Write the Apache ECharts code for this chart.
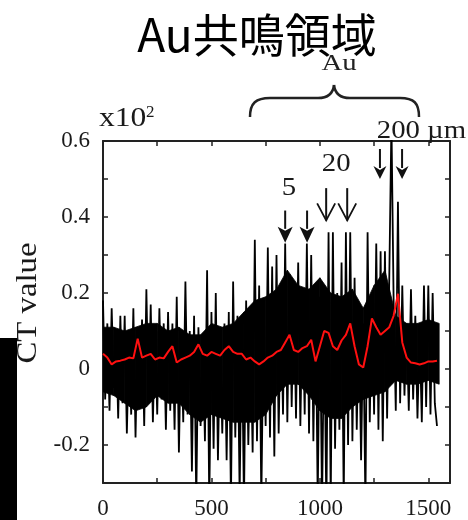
<!DOCTYPE html>
<html>
<head>
<meta charset="utf-8">
<script src="https://cdn.jsdelivr.net/npm/echarts@6/dist/echarts.min.js"></script>
<style>
  html, body { margin: 0; padding: 0; background: #fff; }
  #chart { width: 468px; height: 520px; }
</style>
</head>
<body>
<div id="chart"></div>
<script>
// raw CT profile, one sample every 10 um (0 .. 1540)
const ctStep = 10;
const ctValues = [
  0.18, -0.08, 0.12, -0.11, 0.16, -0.05, 0.10, -0.13, 0.14, -0.09,
  0.14, -0.17, 0.08, -0.12, 0.16, -0.18, 0.11, -0.10, 0.13, -0.15,
  0.21, -0.09, 0.17, -0.14, 0.10, -0.12, 0.16, -0.08, 0.12, -0.16,
  0.15, -0.11, 0.12, -0.16, 0.19, -0.22, 0.09, -0.14, 0.23, -0.12,
  0.10, -0.27, 0.14, -0.35, 0.11, -0.15, 0.08, -0.19, 0.26, -0.36,
  0.15, -0.21, 0.20, -0.24, 0.09, -0.17, 0.12, -0.24, 0.15, -0.35,
  0.23, -0.18, 0.14, -0.33, 0.12, -0.36, 0.18, -0.20, 0.10, -0.22,
  0.34, -0.19, 0.22, -0.35, 0.12, -0.15, 0.32, -0.18, 0.27, -0.23,
  0.30, -0.17, 0.19, -0.12, 0.33, -0.14, 0.25, -0.10, 0.21, -0.13,
  0.28, -0.15, 0.18, -0.12, 0.33, -0.17, 0.30, -0.19, 0.22, -0.35,
  0.19, -0.36, 0.14, -0.38, 0.36, -0.35, 0.36, -0.21, 0.20, -0.16,
  0.28, -0.35, 0.36, -0.20, 0.36, -0.19, 0.24, -0.16, 0.14, -0.24,
  0.12, -0.36, 0.36, -0.14, 0.20, -0.12, 0.33, -0.16, 0.31, -0.19,
  0.31, -0.13, 0.24, 0.65, 0.18, -0.11, 0.44, -0.09, 0.22, -0.07,
  0.12, -0.11, 0.21, -0.08, 0.14, -0.13, 0.10, -0.14, 0.22, -0.10,
  0.22, -0.12, 0.20, -0.09, -0.15
];

// dense noise core of the raw profile, every 50 um (upper / lower edge)
const coreStep = 50;
const coreUpper = [
  0.11, 0.11, 0.10, 0.11, 0.12, 0.12, 0.10, 0.11, 0.09, 0.09,
  0.12, 0.11, 0.12, 0.15, 0.18, 0.19, 0.21, 0.26, 0.22, 0.21,
  0.24, 0.20, 0.19, 0.21, 0.16, 0.22, 0.26, 0.14, 0.12, 0.12,
  0.13, 0.12
];
const coreLower = [
  -0.06, -0.07, -0.09, -0.11, -0.10, -0.07, -0.09, -0.09, -0.12, -0.14,
  -0.12, -0.13, -0.14, -0.14, -0.14, -0.12, -0.07, -0.04, -0.04, -0.07,
  -0.11, -0.13, -0.13, -0.10, -0.08, -0.07, -0.06, -0.03, -0.04, -0.04,
  -0.03, -0.04
];

// averaged profile (red), one sample every 20 um
const avgStep = 20;
const avgValues = [
  0.040, 0.030, 0.012, 0.020, 0.022, 0.025, 0.030, 0.028, 0.080, 0.030,
  0.035, 0.040, 0.025, 0.030, 0.028, 0.045, 0.060, 0.017, 0.025, 0.030,
  0.035, 0.045, 0.065, 0.040, 0.035, 0.045, 0.040, 0.035, 0.050, 0.060,
  0.045, 0.040, 0.040, 0.025, 0.030, 0.020, 0.012, 0.020, 0.030, 0.035,
  0.045, 0.050, 0.070, 0.090, 0.050, 0.045, 0.055, 0.060, 0.077, 0.020,
  0.060, 0.100, 0.095, 0.060, 0.050, 0.075, 0.090, 0.120, 0.060, 0.012,
  0.004, 0.060, 0.133, 0.110, 0.090, 0.100, 0.110, 0.140, 0.198, 0.070,
  0.030, 0.017, 0.015, 0.012, 0.015, 0.020, 0.020, 0.022
];

const xLabelValues = [0, 500, 1000, 1500];
const yLabelValues = [-0.2, 0, 0.2, 0.4, 0.6];

// arrows: x, top, tip, kind (0 big solid, 1 open, 2 small solid)
const arrowMarks = [
  [840, 0.417, 0.332, 0],
  [941, 0.417, 0.332, 0],
  [1029, 0.476, 0.391, 1],
  [1126, 0.476, 0.391, 1],
  [1277, 0.579, 0.500, 2],
  [1379, 0.579, 0.500, 2]
];
const arrowLabels = [
  ['5', 857, 0.476],
  ['20', 1075, 0.538],
  ['200 µm', 1468, 0.624]
];

const ctData = ctValues.map((v, i) => [i * ctStep, v]);
const avgData = avgValues.map((v, i) => [i * avgStep, v]);
const coreData = coreUpper.map((v, i) => [i * coreStep, v, coreLower[i]]);

const ink = '#1a1a1a';
const serif = '"Liberation Serif", "DejaVu Serif", serif';

const chart = echarts.init(document.getElementById('chart'));

const axisCommon = {
  axisLine: { show: true, onZero: false, lineStyle: { color: '#222', width: 2 } },
  axisTick: { show: true, inside: true, length: 5, lineStyle: { color: '#222', width: 1.5 } },
  splitLine: { show: false }
};

// curly brace over the Au region
const braceStyle = { stroke: '#222', lineWidth: 2.5, fill: null };
const brace = [
  { type: 'bezierCurve', shape: { x1: 250, y1: 117, cpx1: 250, cpy1: 103, cpx2: 256, cpy2: 98, x2: 270, y2: 98 }, style: braceStyle },
  { type: 'line', shape: { x1: 270, y1: 98, x2: 318, y2: 98 }, style: braceStyle },
  { type: 'bezierCurve', shape: { x1: 318, y1: 98, cpx1: 328, cpy1: 98, cpx2: 333, cpy2: 94, x2: 334, y2: 85 }, style: braceStyle },
  { type: 'bezierCurve', shape: { x1: 334, y1: 85, cpx1: 335, cpy1: 94, cpx2: 340, cpy2: 98, x2: 350, y2: 98 }, style: braceStyle },
  { type: 'line', shape: { x1: 350, y1: 98, x2: 400, y2: 98 }, style: braceStyle },
  { type: 'bezierCurve', shape: { x1: 400, y1: 98, cpx1: 414, cpy1: 98, cpx2: 419, cpy2: 103, x2: 419, y2: 117 }, style: braceStyle }
];

const option = {
  animation: false,
  backgroundColor: '#fff',
  grid: { left: 103, right: 18, top: 141, bottom: 32 },
  xAxis: [
    Object.assign({
      type: 'value', min: 0, max: 1600, interval: 250,
      axisLabel: {
        margin: 14, color: ink, fontFamily: serif, fontSize: 23,
        formatter: v => xLabelValues.indexOf(v) >= 0 ? String(v) : ''
      }
    }, axisCommon),
    Object.assign({
      type: 'value', position: 'top', min: 0, max: 1600, interval: 250,
      axisLabel: { show: false }
    }, axisCommon)
  ],
  yAxis: [
    Object.assign({
      type: 'value', min: -0.3, max: 0.6, interval: 0.1,
      axisLabel: {
        margin: 13, color: ink, fontFamily: serif, fontSize: 23,
        formatter: v => {
          const r = Math.round(v * 10) / 10;
          return yLabelValues.indexOf(r) >= 0 ? String(r) : '';
        }
      }
    }, axisCommon),
    Object.assign({
      type: 'value', position: 'right', min: -0.3, max: 0.6, interval: 0.1,
      axisLabel: { show: false }
    }, axisCommon)
  ],
  series: [
    {
      // solid band where the raw trace is densest
      type: 'custom', data: coreData, z: 1, clip: true,
      renderItem: (params, api) => {
        const i = params.dataIndex;
        if (i >= coreData.length - 1) return null;
        const n = coreData[i + 1];
        const pts = [
          api.coord([api.value(0), api.value(1)]),
          api.coord([n[0], n[1]]),
          api.coord([n[0], n[2]]),
          api.coord([api.value(0), api.value(2)])
        ];
        return { type: 'polygon', shape: { points: pts }, style: { fill: '#000', stroke: '#000', lineWidth: 0.8 } };
      }
    },
    {
      type: 'line', data: ctData, symbol: 'none', sampling: 'none',
      lineStyle: { color: '#000', width: 1.8 }, clip: true, z: 2
    },
    {
      type: 'line', data: avgData, symbol: 'none',
      lineStyle: { color: '#ff1010', width: 2 }, clip: true, z: 3
    },
    {
      type: 'custom', data: arrowMarks, z: 5, clip: false,
      renderItem: (params, api) => {
        const top = api.coord([api.value(0), api.value(1)]);
        const tip = api.coord([api.value(0), api.value(2)]);
        const kind = api.value(3);
        if (kind === 1) {
          return {
            type: 'group', children: [
              { type: 'line', shape: { x1: top[0], y1: top[1], x2: tip[0], y2: tip[1] },
                style: { stroke: '#111', lineWidth: 2 } },
              { type: 'polyline', shape: { points: [[tip[0] - 9, tip[1] - 17], [tip[0], tip[1]], [tip[0] + 9, tip[1] - 17]] },
                style: { stroke: '#111', lineWidth: 1.8, fill: null } }
            ]
          };
        }
        const hw = kind === 0 ? 7.5 : 6.5;
        const hh = kind === 0 ? 16 : 13;
        return {
          type: 'group', children: [
            { type: 'line', shape: { x1: top[0], y1: top[1], x2: tip[0], y2: tip[1] - hh + 2 },
              style: { stroke: '#111', lineWidth: 2 } },
            { type: 'polygon', shape: { points: [[tip[0] - hw, tip[1] - hh], [tip[0], tip[1] - hh + 4], [tip[0] + hw, tip[1] - hh], [tip[0], tip[1]]] },
              style: { fill: '#111' } }
          ]
        };
      }
    },
    {
      type: 'custom', data: arrowLabels.map(d => [d[1], d[2]]), z: 5, clip: false,
      renderItem: (params, api) => {
        const p = api.coord([api.value(0), api.value(1)]);
        return {
          type: 'text', x: p[0], y: p[1], scaleX: 1.15,
          style: {
            text: arrowLabels[params.dataIndex][0], x: 0, y: 0,
            align: 'center', verticalAlign: 'middle',
            font: '25px ' + serif, fill: ink
          }
        };
      }
    }
  ],
  graphic: [
    { type: 'text', x: 257, y: 35,
      style: { text: 'Au共鳴領域', align: 'center', verticalAlign: 'middle',
        font: '46px "Noto Sans CJK JP", "Noto Sans", sans-serif', fill: '#000' } },
    { type: 'text', x: 339, y: 64, scaleX: 1.2,
      style: { text: 'Au', align: 'center', verticalAlign: 'middle', font: '24px ' + serif, fill: '#222' } },
    { type: 'group', children: brace },
    { type: 'text', x: 99, y: 119, scaleX: 1.17,
      style: { text: 'x10', align: 'left', verticalAlign: 'middle', font: '27px ' + serif, fill: ink } },
    { type: 'text', x: 146, y: 113,
      style: { text: '2', align: 'left', verticalAlign: 'middle', font: '17px ' + serif, fill: ink } },
    { type: 'text', x: 28, y: 303, rotation: Math.PI / 2, scaleX: 1.13,
      style: { text: 'CT value', align: 'center', verticalAlign: 'middle', font: '29px ' + serif, fill: ink } },
    { type: 'rect', shape: { x: 0, y: 338, width: 17, height: 182 }, style: { fill: '#000' } }
  ]
};

chart.setOption(option);
</script>
</body>
</html>
